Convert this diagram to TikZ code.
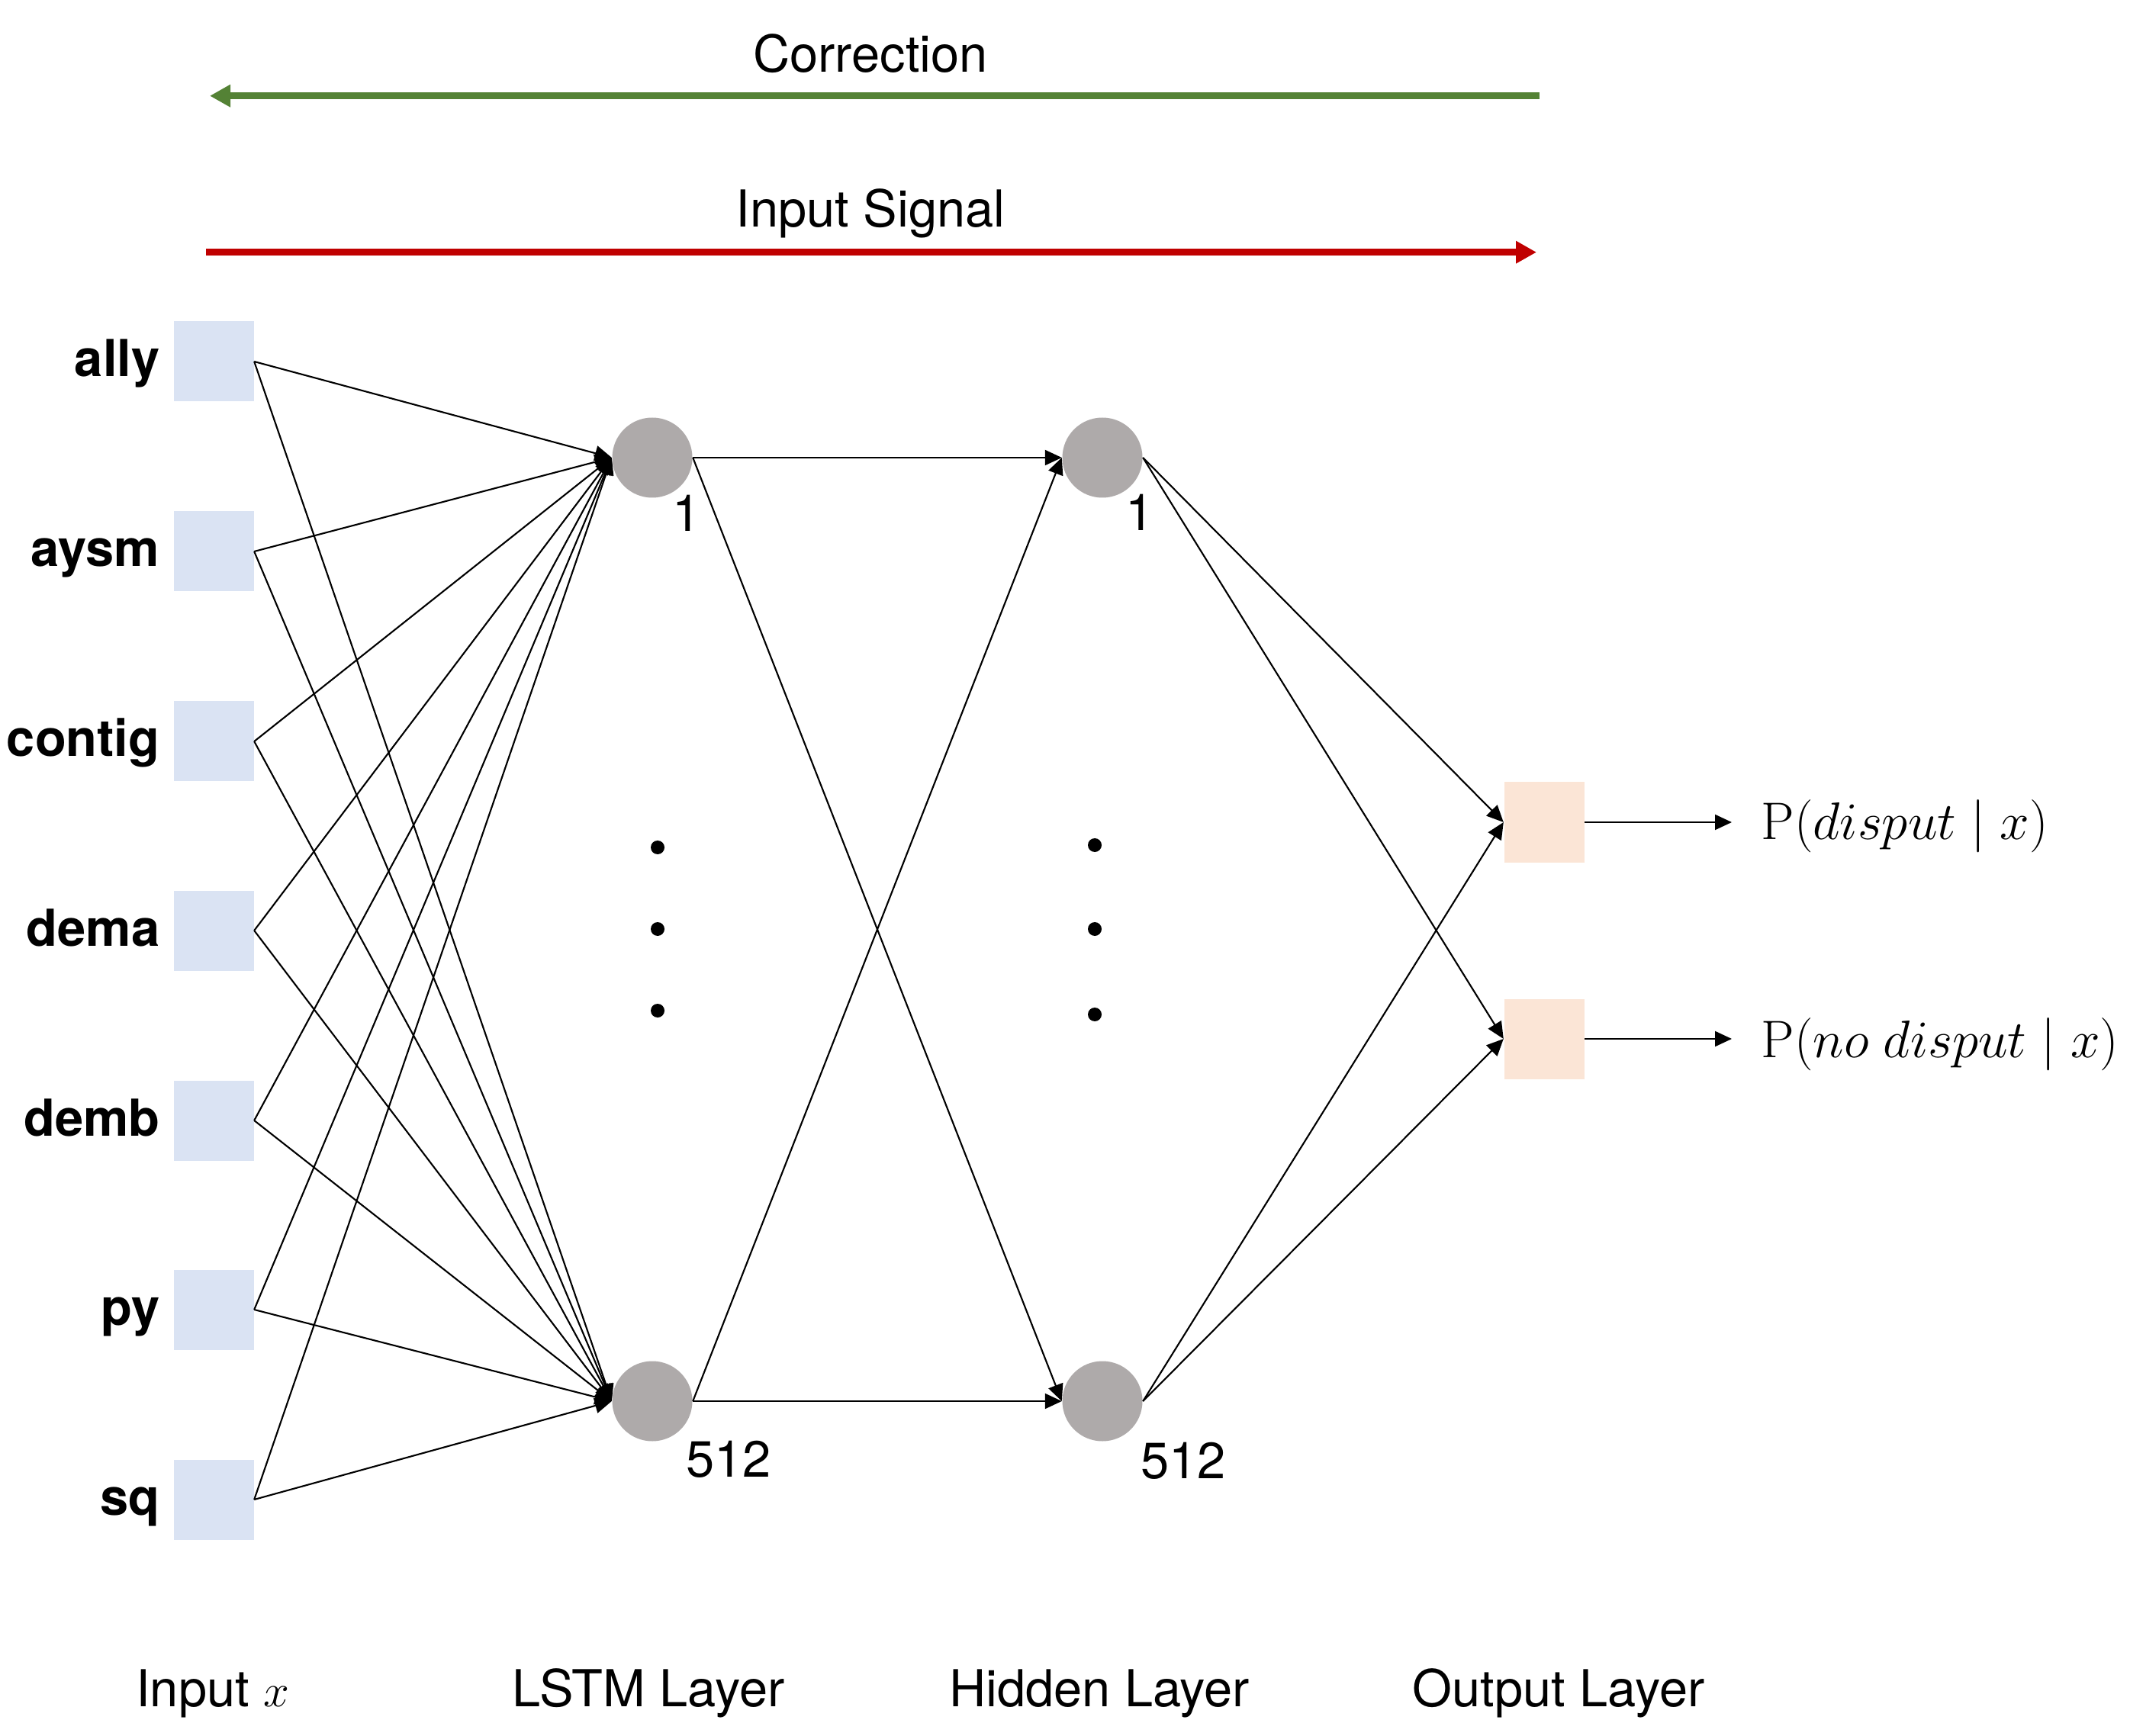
\documentclass[tikz,border=0pt]{standalone}
\usepackage{graphicx}
\usepackage[no-math]{fontspec}
\setmainfont{TeX Gyre Heros}
\usetikzlibrary{arrows.meta}
\definecolor{inblue}{HTML}{DAE3F3}
\definecolor{outpeach}{HTML}{FBE5D6}
\definecolor{unitgray}{HTML}{AEAAAA}
\definecolor{corrgreen}{HTML}{548235}
\definecolor{sigred}{HTML}{C00000}

\begin{document}
\begin{tikzpicture}[
    font=\fontsize{19}{23}\selectfont,
    inbox/.style={fill=inblue, minimum size=1.05cm, inner sep=0pt},
    outbox/.style={fill=outpeach, minimum size=1.05cm, inner sep=0pt},
    unit/.style={circle, fill=unitgray, minimum size=1.05cm, inner sep=0pt},
    feat/.style={anchor=base east, inner sep=0pt, font=\fontsize{19}{23}\selectfont\bfseries},
    prob/.style={anchor=base west, inner sep=0pt, font=\fontsize{20.5}{24}\selectfont},
    wire/.style={line width=0.6pt, -{Triangle[length=0.22cm, width=0.2cm]}},
    flow/.style={line width=2.6pt, -{Triangle[length=0.27cm, width=0.28cm]}}
  ]
    \useasboundingbox (0, 0) rectangle (27.92, -22.76);

    %%correction and signal
    \coordinate (corrR) at (20.18, -1.257);
    \coordinate (corrL) at (2.75, -1.257);
    \draw[flow, corrgreen] (corrR) to (corrL);
        \node[anchor=base] (corrText) at (11.41, -0.95){Correction};
    \coordinate (sigL) at (2.70, -3.307);
    \coordinate (sigR) at (20.14, -3.307);
    \draw[flow, sigred] (sigL) to (sigR);
        \node[anchor=base] (sigText) at (11.41, -2.98){Input Signal};

    %%input x
    \node[inbox] (ally) at (2.80, -4.74){};
    \node[inbox] (aysm) at (2.80, -7.23){};
    \node[inbox] (contig) at (2.80, -9.72){};
    \node[inbox] (dema) at (2.80, -12.20){};
    \node[inbox] (demb) at (2.80, -14.69){};
    \node[inbox] (py) at (2.80, -17.17){};
    \node[inbox] (sq) at (2.80, -19.66){};
        \node[feat] (allyText) at (2.10, -4.94){ally};
        \node[feat] (aysmText) at (2.10, -7.43){aysm};
        \node[feat] (contigText) at (2.10, -9.92){contig};
        \node[feat] (demaText) at (2.10, -12.40){dema};
        \node[feat] (dembText) at (2.10, -14.89){demb};
        \node[feat] (pyText) at (2.10, -17.37){py};
        \node[feat] (sqText) at (2.10, -19.86){sq};

    %%lstm layer
    \node[unit] (lstmA) at (8.55, -6.00){};
    \node[unit] (lstmB) at (8.55, -18.37){};
        \node (lstmAnum) at (9.00, -6.73){1};
        \node (lstmBnum) at (9.55, -19.13){512};
        \fill (8.62, -11.11) circle (0.09);
        \fill (8.62, -12.18) circle (0.09);
        \fill (8.62, -13.25) circle (0.09);

    %%hidden layer
    \node[unit] (hidA) at (14.45, -6.00){};
    \node[unit] (hidB) at (14.45, -18.37){};
        \node (hidAnum) at (14.94, -6.72){1};
        \node (hidBnum) at (15.51, -19.15){512};
        \fill (14.35, -11.08) circle (0.09);
        \fill (14.35, -12.18) circle (0.09);
        \fill (14.35, -13.30) circle (0.09);

    %%output layer
    \node[outbox] (outA) at (20.24, -10.78){};
    \node[outbox] (outB) at (20.24, -13.62){};
    \coordinate (probA) at (22.70, -10.78);
    \coordinate (probB) at (22.70, -13.62);
    \draw[wire] (outA.east) to (probA);
    \draw[wire] (outB.east) to (probB);
        \node[prob] (probAText) at (23.08, -11.00){\scalebox{0.95}{$\mathrm{P}(disput \mid x)$}};
        \node[prob] (probBText) at (23.08, -13.86){\scalebox{0.95}{$\mathrm{P}(no\;disput \mid x)$}};

    %%input to lstm
    \draw[wire] (ally.east) to (lstmA.west);
    \draw[wire] (ally.east) to (lstmB.west);
    \draw[wire] (aysm.east) to (lstmA.west);
    \draw[wire] (aysm.east) to (lstmB.west);
    \draw[wire] (contig.east) to (lstmA.west);
    \draw[wire] (contig.east) to (lstmB.west);
    \draw[wire] (dema.east) to (lstmA.west);
    \draw[wire] (dema.east) to (lstmB.west);
    \draw[wire] (demb.east) to (lstmA.west);
    \draw[wire] (demb.east) to (lstmB.west);
    \draw[wire] (py.east) to (lstmA.west);
    \draw[wire] (py.east) to (lstmB.west);
    \draw[wire] (sq.east) to (lstmA.west);
    \draw[wire] (sq.east) to (lstmB.west);

    %%lstm to hidden
    \draw[wire] (lstmA.east) to (hidA.west);
    \draw[wire] (lstmA.east) to (hidB.west);
    \draw[wire] (lstmB.east) to (hidA.west);
    \draw[wire] (lstmB.east) to (hidB.west);

    %%hidden to output
    \draw[wire] (hidA.east) to (outA.west);
    \draw[wire] (hidA.east) to (outB.west);
    \draw[wire] (hidB.east) to (outA.west);
    \draw[wire] (hidB.east) to (outB.west);

    %%layer names
    \node[anchor=base] (inName) at (2.79, -22.37){Input $x$};
    \node[anchor=base] (lstmName) at (8.50, -22.37){LSTM Layer};
    \node[anchor=base] (hidName) at (14.41, -22.37){Hidden Layer};
    \node[anchor=base] (outName) at (20.43, -22.37){Output Layer};

\end{tikzpicture}
\end{document}
